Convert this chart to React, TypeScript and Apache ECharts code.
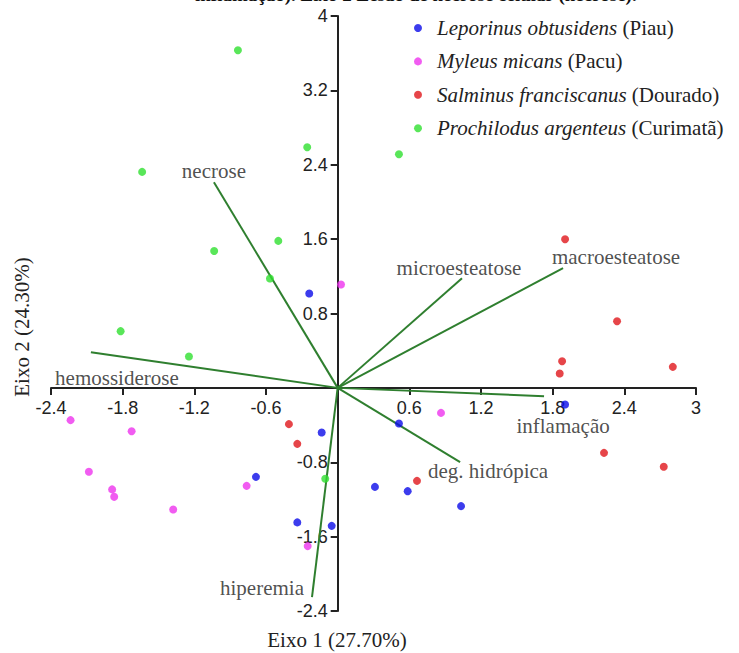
import React, { useEffect, useRef } from "react";
import * as echarts from "echarts";

// ---- data ----
const speciesNames = [
  "Leporinus obtusidens",
  "Myleus micans",
  "Salminus franciscanus",
  "Prochilodus argenteus",
];
const commonNames = ["Piau", "Pacu", "Dourado", "Curimatã"];
const speciesColors = ["#0b0be8", "#ee33ee", "#e0161b", "#2fe02f"];

const piauPoints = [
  [-0.238, 1.015], [1.904, -0.178], [0.513, -0.383], [-0.134, -0.48], [-0.684, -0.957],
  [0.312, -1.065], [0.586, -1.111], [1.033, -1.272], [-0.338, -1.447], [-0.05, -1.484],
];
const pacuPoints = [
  [0.028, 1.112], [-2.236, -0.347], [0.865, -0.269], [-1.725, -0.466], [-2.083, -0.903],
  [-1.888, -1.092], [-1.871, -1.172], [-1.377, -1.308], [-0.762, -1.054], [-0.251, -1.702],
];
const douradoPoints = [
  [1.904, 1.599], [2.339, 0.717], [1.879, 0.287], [1.859, 0.155], [2.806, 0.226],
  [-0.408, -0.39], [-0.338, -0.602], [0.664, -1.0], [2.23, -0.699], [2.73, -0.849],
];
const curimataPoints = [
  [-0.835, 3.631], [-0.255, 2.588], [0.513, 2.513], [-1.637, 2.323], [-0.497, 1.581],
  [-1.034, 1.473], [-0.567, 1.176], [-1.817, 0.61], [-1.245, 0.338], [-0.104, -0.978],
];
const speciesPoints = [piauPoints, pacuPoints, douradoPoints, curimataPoints];

const loadingNames = [
  "necrose",
  "hemossiderose",
  "microesteatose",
  "macroesteatose",
  "inflamação",
  "deg. hidrópica",
  "hiperemia",
];
const loadingEnds = [
  [-1.036, 2.212],
  [-2.066, 0.384],
  [1.041, 1.18],
  [1.887, 1.287],
  [1.728, -0.089],
  [1.025, -0.798],
  [-0.215, -2.251],
];
// label offsets in pixels (styling)
const loadingLabelOffsets = [
  [0, -11],
  [26, 26],
  [-3, -10],
  [53, -11],
  [19, 30],
  [28, 9],
  [-50, -9],
];

const xTicks = { min: -2.4, max: 3, interval: 0.6 };
const yTicks = { min: -2.4, max: 4, interval: 0.8 };

const titleFragment = "inflamação). Eixo 2 Lesão de necrose celular (necrose).";
const xAxisName = "Eixo 1 (27.70%)";
const yAxisName = "Eixo 2 (24.30%)";

const SERIF = "Liberation Serif";
const SANS = "Liberation Sans";
const LINE_GREEN = "#2f7f2f";

// layout (styling)
const W = 739;
const H = 653;
const GRID = { left: 51, right: 43, top: 16, bottom: 42 };

export default function App() {
  const ref = useRef<HTMLDivElement>(null);

  useEffect(() => {
    if (!ref.current) return;
    const chart = echarts.init(ref.current, undefined, { renderer: "svg" });

    const tickFormatter = (v: number) => {
      if (Math.abs(v) < 1e-9) return "";
      return String(Math.round(v * 10) / 10);
    };

    // pixel offsets that place each axis on the other's zero
    const gw = W - GRID.left - GRID.right;
    const gh = H - GRID.top - GRID.bottom;
    const xZeroFrac = (0 - xTicks.min) / (xTicks.max - xTicks.min);
    const yZeroFrac = (0 - yTicks.min) / (yTicks.max - yTicks.min);
    const yAxisOffset = -(gw * xZeroFrac);
    const xAxisOffset = -(gh * yZeroFrac);

    const axisLineStyle = { color: "#222", width: 2 };

    const loadingSeries = loadingEnds.map((end, i) => ({
      type: "line",
      name: "loading-" + loadingNames[i],
      data: [[0, 0], end],
      symbol: "none",
      silent: true,
      lineStyle: { color: LINE_GREEN, width: 2 },
      z: 1,
    }));

    const labelSeries = {
      type: "scatter",
      name: "loading-labels",
      symbolSize: 1,
      silent: true,
      itemStyle: { color: "rgba(0,0,0,0)" },
      data: loadingEnds.map((end, i) => ({
        value: end,
        label: {
          show: true,
          position: "inside",
          formatter: loadingNames[i],
          offset: loadingLabelOffsets[i],
          fontFamily: SERIF,
          fontSize: 21,
          color: "#222",
        },
      })),
      z: 3,
    };

    const pointSeries = speciesNames.map((name, i) => ({
      type: "scatter",
      name,
      data: speciesPoints[i],
      symbol: "circle",
      symbolSize: 8,
      itemStyle: { color: speciesColors[i] },
      z: 4,
    }));

    const option = {
      animation: false,
      textStyle: { fontFamily: SERIF },
      grid: { ...GRID, containLabel: false },
      legend: {
        data: speciesNames,
        orient: "vertical",
        left: 414,
        top: 17,
        padding: 0,
        itemGap: 11.4,
        itemWidth: 28,
        itemHeight: 8,
        icon: "circle",
        selectedMode: false,
        formatter: (name: string) => {
          const i = speciesNames.indexOf(name);
          return `{i|${name}} {n|(${commonNames[i]})}`;
        },
        textStyle: {
          fontFamily: SERIF,
          fontSize: 21,
          color: "#222",
          lineHeight: 22,
          rich: {
            i: { fontStyle: "italic", fontFamily: SERIF, fontSize: 21, color: "#222", lineHeight: 22 },
            n: { fontFamily: SERIF, fontSize: 21, color: "#222", lineHeight: 22 },
          },
        },
      },
      xAxis: {
        type: "value",
        position: "bottom",
        offset: xAxisOffset,
        min: xTicks.min,
        max: xTicks.max,
        interval: xTicks.interval,
        splitLine: { show: false },
        axisLine: { show: true, onZero: false, lineStyle: axisLineStyle },
        axisTick: { show: true, length: 7, lineStyle: axisLineStyle },
        axisLabel: {
          fontFamily: SANS,
          fontSize: 18,
          color: "#222",
          margin: 11,
          formatter: tickFormatter,
        },
      },
      yAxis: {
        type: "value",
        position: "left",
        offset: yAxisOffset,
        min: yTicks.min,
        max: yTicks.max,
        interval: yTicks.interval,
        splitLine: { show: false },
        axisLine: { show: true, onZero: false, lineStyle: axisLineStyle },
        axisTick: { show: true, length: 7, lineStyle: axisLineStyle },
        axisLabel: {
          fontFamily: SANS,
          fontSize: 18,
          color: "#222",
          margin: 10,
          formatter: tickFormatter,
        },
      },
      graphic: [
        {
          type: "text",
          left: 195,
          top: -15,
          style: {
            text: titleFragment,
            fontFamily: SERIF,
            fontWeight: "bold",
            fontSize: 19,
            fill: "#111",
          },
        },
        {
          type: "text",
          x: 337,
          y: 640,
          style: {
            text: xAxisName,
            fontFamily: SERIF,
            fontSize: 21,
            fill: "#222",
            align: "center",
            verticalAlign: "middle",
          },
        },
        {
          type: "text",
          x: 22,
          y: 327,
          rotation: Math.PI / 2,
          style: {
            text: yAxisName,
            fontFamily: SERIF,
            fontSize: 21,
            fill: "#222",
            align: "center",
            verticalAlign: "middle",
          },
        },
      ],
      series: [...loadingSeries, labelSeries, ...pointSeries],
    };

    chart.setOption(option as any);
    return () => chart.dispose();
  }, []);

  return <div ref={ref} style={{ width: W, height: H, position: "absolute", left: 0, top: 0 }} />;
}
